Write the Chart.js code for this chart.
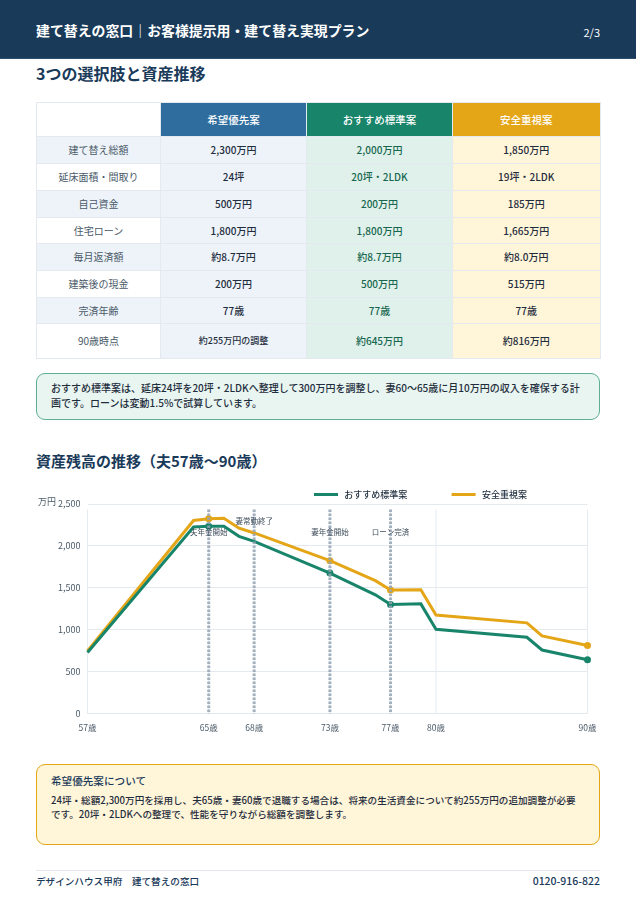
<!DOCTYPE html>
<html lang="ja"><head><meta charset="utf-8">
<script src="https://cdn.jsdelivr.net/npm/chart.js@4"></script>
<style>
*{box-sizing:border-box}
html,body{margin:0;padding:0;background:#fff}
body{width:636px;height:900px;position:relative;overflow:hidden;font-family:"Noto Sans CJK JP","Noto Sans",sans-serif;color:#1f2d3d}
.abs{position:absolute;white-space:nowrap}
#hdr{left:0;top:0;width:636px;height:59px;background:#1a3a5a;border-bottom:1px solid #2d5070}
h2{margin:0;font-weight:700;color:#1a3a5a;line-height:22px}
table{position:absolute;left:36px;top:102px;width:563.5px;border-collapse:collapse;table-layout:fixed;font-size:10px}
td,th{border:1.5px solid #e3e9ef;text-align:center;padding:0;font-weight:500;line-height:14px}
th{font-size:10.5px;color:#fff}
td.l{color:#4a5a68;font-weight:400}
.b{background:#edf3f9;color:#1f2d3d}
.g{background:#dff1ea;color:#17664f}
.y{background:#fff5d9;color:#1f2d3d}
.note{position:absolute;left:36px;width:564px;border-radius:9px;font-size:10px;font-weight:500}
canvas{position:absolute;left:36px;top:483px}
</style></head><body>
<div class="abs" id="hdr"></div>
<div class="abs" style="left:36px;top:19px;font-size:13.9px;font-weight:700;color:#fff;line-height:22px">建て替えの窓口｜お客様提示用・建て替え実現プラン</div>
<div class="abs" style="right:36px;top:24px;font-size:11px;color:#fff;line-height:16px">2/3</div>
<h2 class="abs" style="left:36px;top:62px;font-size:16px">3つの選択肢と資産推移</h2>
<table>
<colgroup><col style="width:124px"><col style="width:146px"><col style="width:146px"><col style="width:147.5px"></colgroup>
<tbody id="tb"></tbody></table>
<div class="note" style="top:373px;height:47px;background:#e8f5f0;border:1.5px solid #5fae96;padding:5.5px 14px;line-height:15px;color:#1f2d3d">おすすめ標準案は、延床24坪を20坪・2LDKへ整理して300万円を調整し、妻60〜65歳に月10万円の収入を確保する計画です。ローンは変動1.5%で試算しています。</div>
<h2 class="abs" style="left:36px;top:450px;font-size:15px">資産残高の推移（夫57歳〜90歳）</h2>
<canvas id="c" width="564" height="251" style="width:564px;height:251px"></canvas>
<div class="note" style="top:764px;height:81px;background:#fff5d9;border:1.5px solid #e4a617;padding:8px 14px;line-height:14px;color:#1f2d3d;font-size:9.6px">
<div style="font-size:10.6px;color:#1a3a5a;line-height:16px;margin-bottom:4px">希望優先案について</div>24坪・総額2,300万円を採用し、夫65歳・妻60歳で退職する場合は、将来の生活資金について約255万円の追加調整が必要<br>です。20坪・2LDKへの整理で、性能を守りながら総額を調整します。</div>
<div class="abs" style="left:36px;top:870px;width:564px;height:1px;background:#e3e7eb"></div>
<div class="abs" style="left:36px;top:874px;font-size:9.6px;font-weight:500;color:#1a3a5a;line-height:15px">デザインハウス甲府　建て替えの窓口</div>
<div class="abs" style="right:36px;top:873px;font-size:10.5px;font-weight:500;color:#1a3a5a;line-height:16px">0120-916-822</div>
<script>
// table content
const rowLabels=["建て替え総額","延床面積・間取り","自己資金","住宅ローン","毎月返済額","建築後の現金","完済年齢","90歳時点"];
const planNames=["希望優先案","おすすめ標準案","安全重視案"];
const planHope=["2,300万円","24坪","500万円","1,800万円","約8.7万円","200万円","77歳","約255万円の調整"];
const planStd=["2,000万円","20坪・2LDK","200万円","1,800万円","約8.7万円","500万円","77歳","約645万円"];
const planSafe=["1,850万円","19坪・2LDK","185万円","1,665万円","約8.0万円","515万円","77歳","約816万円"];
const rowH=[27,27,27,26,27,27,26,35];
let h='<tr style="height:34px"><td style="background:#fff"></td><th style="background:#2e6d9e">'+planNames[0]+'</th><th style="background:#18856b">'+planNames[1]+'</th><th style="background:#e4a617">'+planNames[2]+'</th></tr>';
rowLabels.forEach((l,i)=>{h+='<tr style="height:'+rowH[i]+'px"><td class="l" style="background:'+(i%2?'#fff':'#edf3f9')+'">'+l+'</td><td class="b"'+(i==7?' style="font-size:9px"':'')+'>'+planHope[i]+'</td><td class="g">'+planStd[i]+'</td><td class="y">'+planSafe[i]+'</td></tr>'});
document.getElementById('tb').innerHTML=h;

// chart data
const ages=[57,64,65,66,67,68,73,76,77,79,80,86,87,90];
const stdValues=[730,2227,2235,2235,2115,2055,1677,1418,1302,1310,1008,912,760,645];
const safeValues=[750,2303,2323,2330,2211,2155,1825,1586,1474,1478,1176,1084,928,813];
const tickAges=[57,65,68,73,77,80,90];
const markedAges=[65,73,77,90];
const eventAges=[65,68,73,77];
const eventLabels=["夫年金開始","妻常勤終了","妻年金開始","ローン完済"];
const eventLabelValues=[2165,2291,2165,2165];
const toPts=v=>ages.map((a,i)=>({x:a,y:v[i]}));
const radius=c=>markedAges.includes(c.raw&&c.raw.x)?3.5:0;
const overlay={id:'overlay',
 afterLayout(ch){const lg=ch.legend;lg.left=278-lg.options.labels.padding;lg.right=lg.left+lg.width+100;lg.top+=5;lg.bottom+=5;},
 beforeDatasetsDraw(ch){const {ctx,scales:{x},chartArea:a}=ch;const top=a.top+5.5;ctx.save();
  ctx.strokeStyle='#e6ebf0';ctx.lineWidth=1;
  tickAges.forEach(t=>{const p=x.getPixelForValue(t);ctx.beginPath();ctx.moveTo(p,top);ctx.lineTo(p,a.bottom);ctx.stroke();});
  ctx.restore();},
 afterDatasetsDraw(ch){const {ctx,scales:{x,y},chartArea:a}=ch;const top=a.top+5.5;ctx.save();
  ctx.strokeStyle='rgba(148,163,180,.85)';ctx.lineWidth=3;ctx.setLineDash([2.5,1.5]);
  eventAges.forEach(t=>{const p=x.getPixelForValue(t);ctx.beginPath();ctx.moveTo(p,top);ctx.lineTo(p,a.bottom);ctx.stroke();});
  ctx.setLineDash([]);ctx.fillStyle='#3f4d5c';ctx.font='7.5px "Noto Sans CJK JP"';ctx.textAlign='center';ctx.textBaseline='middle';
  eventAges.forEach((t,i)=>ctx.fillText(eventLabels[i],x.getPixelForValue(t),y.getPixelForValue(eventLabelValues[i])));
  ctx.fillStyle='#4a5a68';ctx.font='9px "Noto Sans CJK JP"';ctx.textAlign='left';ctx.fillText('万円',2,y.getPixelForValue(2500)-2.5);
  ctx.restore();}
};
new Chart(document.getElementById('c'),{type:'line',
 data:{datasets:[
  {label:planNames[1],data:toPts(stdValues),borderColor:'#18856b',backgroundColor:'#18856b',borderWidth:3,pointRadius:radius,pointHoverRadius:radius,pointBorderWidth:0,tension:0,clip:false},
  {label:planNames[2],data:toPts(safeValues),borderColor:'#e4a617',backgroundColor:'#e4a617',borderWidth:3,pointRadius:radius,pointHoverRadius:radius,pointBorderWidth:0,tension:0,clip:false}]},
 plugins:[overlay],
 options:{responsive:false,animation:false,
  layout:{padding:{left:0,right:12.5,top:0,bottom:0}},
  plugins:{tooltip:{enabled:false},legend:{display:true,position:'top',align:'start',
    labels:{boxWidth:24,boxHeight:3,padding:2,font:{size:9,family:'"Noto Sans CJK JP"',weight:'500'},color:'#1f2d3d',
     generateLabels(ch){return Chart.defaults.plugins.legend.labels.generateLabels(ch).map((it,i)=>({...it,lineWidth:0,text:'\u2009'+(i==0?it.text+'　　　　\u2002\u2009':it.text)}))}}}},
  scales:{
   x:{type:'linear',min:57,max:90,grid:{display:false},border:{display:false},
    afterBuildTicks(s){s.ticks=tickAges.map(v=>({value:v}))},
    ticks:{autoSkip:false,maxRotation:0,padding:1,color:'#4a5a68',font:{size:8.5,family:'"Noto Sans CJK JP"'},callback:v=>v+'歳'}},
   y:{min:0,max:2500,grid:{color:'#e4e9ee',lineWidth:1,drawTicks:false},border:{display:false},
    afterBuildTicks(s){s.ticks=[0,500,1000,1500,2000,2500].map(v=>({value:v}))},
    afterFit(s){s.width=51.5},
    ticks:{padding:7,color:'#4a5a68',font:{size:9,family:'"Noto Sans CJK JP"'},callback:v=>v.toLocaleString('en-US')}}
  }}});
</script>
</body></html>
